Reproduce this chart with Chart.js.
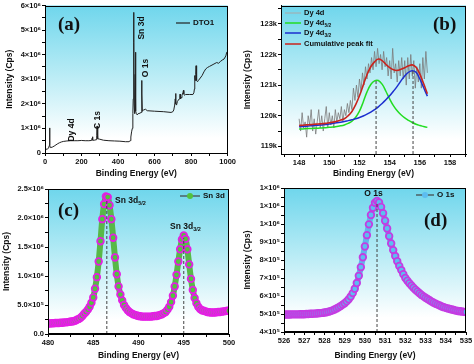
<!DOCTYPE html>
<html>
<head>
<meta charset="utf-8">
<script src="https://cdn.jsdelivr.net/npm/chart.js@4.4.0/dist/chart.umd.min.js"></script>
<style>
  body { margin: 0; background: #fff; }
  #wrap { position: relative; width: 474px; height: 364px; }
  canvas { position: absolute; }
</style>
</head>
<body>
<div id="wrap">
  <canvas id="panelA" width="237" height="182" style="left:0;top:0"></canvas>
  <canvas id="panelB" width="237" height="182" style="left:237px;top:0"></canvas>
  <canvas id="panelC" width="237" height="182" style="left:0;top:182px"></canvas>
  <canvas id="panelD" width="237" height="182" style="left:237px;top:182px"></canvas>
</div>
<script>
// ---------- data ----------
// (a) survey spectrum, counts in 10^6 Cps
const surveyEnergy = [
  0, 5, 10, 15, 20, 23, 25, 27, 30, 40,
  50, 60, 70, 80, 90, 100, 120, 140, 160, 180,
  200, 220, 240, 255, 258, 260, 262, 270, 280, 283,
  285, 287, 290, 300, 320, 350, 380, 410, 440, 460,
  466, 470, 474, 478, 481, 483, 485, 486, 487, 488,
  490, 492, 494, 495, 496, 498, 500, 505, 510, 520,
  526, 529, 530, 531, 533, 540, 550, 560, 600, 650,
  690, 700, 705, 710, 713, 715, 717, 720, 725, 735,
  738, 740, 742, 745, 750, 755, 758, 760, 763, 770,
  790, 810, 815, 818, 820, 822, 825, 827, 829, 831,
  835, 840, 850, 860, 870, 880, 890, 900, 920, 940,
  950, 960, 970, 980, 990, 995, 1000
];
const surveyCounts = [
  0.12, 0.15, 0.16, 0.17, 0.20, 0.30, 1.02, 0.30, 0.22, 0.24,
  0.28, 0.33, 0.38, 0.42, 0.45, 0.47, 0.49, 0.50, 0.50, 0.50,
  0.51, 0.50, 0.50, 0.51, 0.60, 0.66, 0.52, 0.52, 0.54, 0.70,
  1.10, 0.70, 0.58, 0.56, 0.52, 0.50, 0.49, 0.48, 0.46, 0.46,
  0.50, 0.65, 0.86, 1.00, 1.60, 2.20, 4.00, 5.72, 4.50, 2.00,
  1.60, 2.20, 3.20, 4.10, 3.00, 1.70, 1.60, 1.55, 1.60, 1.62,
  1.65, 2.20, 2.95, 2.40, 1.70, 1.75, 1.78, 1.72, 1.70, 1.68,
  1.65, 1.68, 1.75, 1.95, 2.20, 2.42, 2.00, 1.95, 2.10, 2.20,
  2.35, 2.40, 2.20, 2.25, 2.35, 2.45, 2.55, 2.40, 2.35, 2.38,
  2.38, 2.38, 2.45, 2.60, 3.15, 2.95, 3.20, 3.55, 3.10, 2.95,
  2.90, 2.95, 3.05, 3.15, 3.30, 3.42, 3.48, 3.52, 3.60, 3.68,
  3.65, 3.72, 3.78, 3.82, 3.95, 4.10, 4.12
];

// (b) Dy 4d region, counts in k Cps
const dyEnergy = [
  148.0, 148.1, 148.2, 148.3, 148.4, 148.5, 148.6, 148.7, 148.8, 148.9,
  149.0, 149.1, 149.2, 149.3, 149.4, 149.5, 149.6, 149.7, 149.8, 149.9,
  150.0, 150.1, 150.2, 150.3, 150.4, 150.5, 150.6, 150.7, 150.8, 150.9,
  151.0, 151.1, 151.2, 151.3, 151.4, 151.5, 151.6, 151.7, 151.8, 151.9,
  152.0, 152.1, 152.2, 152.3, 152.4, 152.5, 152.6, 152.7, 152.8, 152.9,
  153.0, 153.1, 153.2, 153.3, 153.4, 153.5, 153.6, 153.7, 153.8, 153.9,
  154.0, 154.1, 154.2, 154.3, 154.4, 154.5, 154.6, 154.7, 154.8, 154.9,
  155.0, 155.1, 155.2, 155.3, 155.4, 155.5, 155.6, 155.7, 155.8, 155.9,
  156.0, 156.1, 156.2, 156.3, 156.4, 156.5
];
const dyRaw = [
  119.9, 119.5, 120.1, 119.6, 119.8, 119.3, 120.0, 119.7, 120.2, 119.5,
  119.9, 119.4, 119.8, 120.2, 119.6, 120.0, 119.5, 119.9, 120.3, 119.6,
  120.1, 119.7, 120.0, 119.6, 120.2, 119.8, 120.1, 119.9, 120.3, 119.8,
  120.2, 120.0, 120.4, 120.1, 120.5, 120.2, 120.9, 120.5, 121.0, 120.6,
  121.2, 120.8, 121.4, 121.0, 121.6, 121.2, 121.7, 121.4, 121.9, 121.5,
  122.1, 121.6, 122.2, 121.7, 122.0, 121.5, 122.1, 121.6, 121.9, 121.3,
  121.8, 121.2, 122.2, 121.4, 121.7, 121.1, 121.8, 121.3, 121.9, 121.2,
  121.8, 121.0, 121.9, 121.2, 122.0, 121.3, 121.8, 120.9, 121.6, 121.1,
  121.7, 120.9, 121.9, 121.2, 122.1, 121.4
];
const fitEnergy = [
  148.0, 148.25, 148.5, 148.75, 149.0, 149.25, 149.5, 149.75, 150.0, 150.25,
  150.5, 150.75, 151.0, 151.25, 151.5, 151.75, 152.0, 152.25, 152.5, 152.75,
  153.0, 153.25, 153.5, 153.75, 154.0, 154.25, 154.5, 154.75, 155.0, 155.25,
  155.5, 155.75, 156.0, 156.25, 156.5
];
const fit52 = [
  119.57, 119.57, 119.58, 119.58, 119.59, 119.59, 119.60, 119.61, 119.62, 119.63,
  119.65, 119.67, 119.70, 119.75, 119.82, 119.95, 120.15, 120.45, 120.78, 121.02,
  121.14, 121.15, 121.03, 120.80, 120.55, 120.33, 120.16, 120.03, 119.93, 119.85,
  119.78, 119.72, 119.68, 119.65, 119.62
];
const fit32 = [
  119.64, 119.65, 119.66, 119.67, 119.68, 119.69, 119.70, 119.71, 119.73, 119.75,
  119.77, 119.79, 119.81, 119.84, 119.87, 119.90, 119.94, 119.99, 120.05, 120.12,
  120.20, 120.29, 120.40, 120.52, 120.65, 120.80, 120.96, 121.14, 121.30, 121.42,
  121.47, 121.42, 121.20, 120.92, 120.64
];
const fitSum = [
  119.68, 119.69, 119.70, 119.71, 119.72, 119.73, 119.74, 119.75, 119.77, 119.79,
  119.82, 119.86, 119.90, 120.00, 120.14, 120.36, 120.65, 121.00, 121.34, 121.60,
  121.76, 121.85, 121.80, 121.68, 121.57, 121.50, 121.48, 121.52, 121.57, 121.63,
  121.66, 121.58, 121.36, 121.05, 120.72
];
const dyPeaks = [153.1, 155.55];
const dyPeakTops = [121.15, 121.47];

// (c) Sn 3d, counts in 10^6 Cps
const snEnergy = [
  480.0, 480.2, 480.4, 480.6, 480.8, 481.0, 481.2, 481.4, 481.6, 481.8,
  482.0, 482.2, 482.4, 482.6, 482.8, 483.0, 483.2, 483.4, 483.6, 483.8,
  484.0, 484.2, 484.4, 484.6, 484.8, 485.0, 485.2, 485.4, 485.6, 485.8,
  486.0, 486.2, 486.4, 486.6, 486.8, 487.0, 487.2, 487.4, 487.6, 487.8,
  488.0, 488.2, 488.4, 488.6, 488.8, 489.0, 489.2, 489.4, 489.6, 489.8,
  490.0, 490.2, 490.4, 490.6, 490.8, 491.0, 491.2, 491.4, 491.6, 491.8,
  492.0, 492.2, 492.4, 492.6, 492.8, 493.0, 493.2, 493.4, 493.6, 493.8,
  494.0, 494.2, 494.4, 494.6, 494.8, 495.0, 495.2, 495.4, 495.6, 495.8,
  496.0, 496.2, 496.4, 496.6, 496.8, 497.0, 497.2, 497.4, 497.6, 497.8,
  498.0, 498.2, 498.4, 498.6, 498.8, 499.0, 499.2, 499.4, 499.6, 499.8,
  500.0
];
const snCounts = [
  0.18, 0.18, 0.185, 0.185, 0.19, 0.19, 0.19, 0.195, 0.195, 0.20,
  0.20, 0.205, 0.21, 0.215, 0.22, 0.23, 0.245, 0.26, 0.28, 0.31,
  0.35, 0.38, 0.42, 0.47, 0.54, 0.63, 0.78, 0.98, 1.25, 1.60,
  1.98, 2.24, 2.37, 2.36, 2.22, 1.98, 1.66, 1.32, 1.03, 0.82,
  0.68, 0.58, 0.50, 0.45, 0.41, 0.38, 0.36, 0.34, 0.33, 0.32,
  0.31, 0.305, 0.30, 0.30, 0.30, 0.30, 0.30, 0.30, 0.305, 0.31,
  0.31, 0.32, 0.33, 0.34, 0.36, 0.38, 0.42, 0.47, 0.55, 0.66,
  0.82, 1.02, 1.25, 1.46, 1.63, 1.70, 1.64, 1.46, 1.20, 0.95,
  0.76, 0.62, 0.53, 0.47, 0.43, 0.41, 0.40, 0.39, 0.38, 0.375,
  0.37, 0.37, 0.37, 0.375, 0.38, 0.38, 0.385, 0.39, 0.395, 0.40,
  0.40
];
const snPeaks = [486.5, 495.0];
const snPeakTops = [2.3, 1.65];

// (d) O 1s, counts in 10^5 Cps
const oEnergy = [
  526.0, 526.1, 526.2, 526.3, 526.4, 526.5, 526.6, 526.7, 526.8, 526.9,
  527.0, 527.1, 527.2, 527.3, 527.4, 527.5, 527.6, 527.7, 527.8, 527.9,
  528.0, 528.1, 528.2, 528.3, 528.4, 528.5, 528.6, 528.7, 528.8, 528.9,
  529.0, 529.1, 529.2, 529.3, 529.4, 529.5, 529.6, 529.7, 529.8, 529.9,
  530.0, 530.1, 530.2, 530.3, 530.4, 530.5, 530.6, 530.7, 530.8, 530.9,
  531.0, 531.1, 531.2, 531.3, 531.4, 531.5, 531.6, 531.7, 531.8, 531.9,
  532.0, 532.1, 532.2, 532.3, 532.4, 532.5, 532.6, 532.7, 532.8, 532.9,
  533.0, 533.1, 533.2, 533.3, 533.4, 533.5, 533.6, 533.7, 533.8, 533.9,
  534.0, 534.1, 534.2, 534.3, 534.4, 534.5, 534.6, 534.7, 534.8, 534.9,
  535.0
];
const oCounts = [
  4.97, 4.97, 4.97, 4.97, 4.98, 4.98, 4.98, 4.98, 4.99, 4.99,
  4.99, 5.00, 5.00, 5.01, 5.01, 5.02, 5.03, 5.04, 5.05, 5.06,
  5.08, 5.10, 5.13, 5.16, 5.20, 5.25, 5.31, 5.37, 5.44, 5.52,
  5.60, 5.70, 5.82, 5.97, 6.16, 6.40, 6.72, 7.12, 7.60, 8.15,
  8.75, 9.38, 9.98, 10.50, 10.90, 11.18, 11.28, 11.20, 10.95, 10.60,
  10.18, 9.75, 9.32, 8.92, 8.55, 8.22, 7.93, 7.67, 7.44, 7.21,
  7.00, 6.85, 6.71, 6.58, 6.46, 6.35, 6.25, 6.15, 6.06, 5.98,
  5.90, 5.83, 5.76, 5.69, 5.63, 5.57, 5.52, 5.47, 5.42, 5.38,
  5.34, 5.31, 5.28, 5.25, 5.22, 5.19, 5.17, 5.15, 5.14, 5.12,
  5.11
];
const oPeaks = [530.6];
const oPeakTops = [11.2];

// tick labels
const yTicksA = ['0', '1×10⁶', '2×10⁶', '3×10⁶', '4×10⁶', '5×10⁶', '6×10⁶'];
const yTicksB = ['119k', '120k', '121k', '122k', '123k'];
const yTicksC = ['0.0', '5.0×10⁵', '1.0×10⁶', '1.5×10⁶', '2.0×10⁶', '2.5×10⁶'];
const yTicksD = ['4×10⁵', '5×10⁵', '6×10⁵', '7×10⁵', '8×10⁵', '9×10⁵', '1×10⁶', '1×10⁶', '1×10⁶'];

// ---------- helpers ----------
const SANS = '"Liberation Sans", Arial, sans-serif';
const SERIF = '"Liberation Serif", "Times New Roman", serif';

function pts(xs, ys) {
  return xs.map((x, i) => ({ x: x, y: ys[i] }));
}

function dashLines(xs, tops, bottom) {
  return xs.map((x, i) => ({
    data: [{ x: x, y: bottom }, { x: x, y: tops[i] }],
    borderColor: '#444', borderWidth: 1, borderDash: [3, 2], pointRadius: 0
  }));
}

// text with optional subscript part
function richText(ctx, x, y, parts, size, align) {
  let w = 0;
  parts.forEach(p => {
    ctx.font = 'bold ' + (p.sub ? size * 0.65 : size) + 'px ' + SANS;
    w += ctx.measureText(p.t).width;
  });
  let cx = align === 'center' ? x - w / 2 : x;
  ctx.textAlign = 'left';
  ctx.textBaseline = 'middle';
  parts.forEach(p => {
    ctx.font = 'bold ' + (p.sub ? size * 0.65 : size) + 'px ' + SANS;
    ctx.fillText(p.t, cx, p.sub ? y + size * 0.3 : y);
    cx += ctx.measureText(p.t).width;
  });
}

const deco = {
  id: 'deco',
  beforeDraw(chart) {
    const { ctx, chartArea: a } = chart;
    const g = ctx.createLinearGradient(0, a.top, 0, a.bottom);
    g.addColorStop(0, '#6fd6ec');
    g.addColorStop(0.45, '#b6ebf5');
    g.addColorStop(0.9, '#ffffff');
    ctx.save();
    ctx.fillStyle = g;
    ctx.fillRect(a.left, a.top, a.right - a.left, a.bottom - a.top);
    ctx.restore();
  },
  afterDraw(chart, args, o) {
    const { ctx, chartArea: a } = chart;
    ctx.save();
    ctx.strokeStyle = '#000';
    ctx.lineWidth = 1;
    ctx.strokeRect(Math.round(a.left) + 0.5, Math.round(a.top) + 0.5,
      Math.round(a.right - a.left) - 1, Math.round(a.bottom - a.top) - 1);

    ctx.fillStyle = '#111';
    ctx.font = 'bold 19px ' + SERIF;
    ctx.textBaseline = 'middle';
    ctx.textAlign = 'left';
    ctx.fillText(o.letter[0], o.letter[1], o.letter[2]);

    (o.legend || []).forEach(it => {
      ctx.strokeStyle = it.color;
      ctx.lineWidth = it.width || 1.5;
      ctx.beginPath();
      ctx.moveTo(it.x, it.y);
      ctx.lineTo(it.x + it.len, it.y);
      ctx.stroke();
      if (it.marker) {
        ctx.beginPath();
        ctx.arc(it.x + it.len / 2, it.y, 3, 0, Math.PI * 2);
        ctx.fillStyle = it.marker;
        ctx.fill();
      }
      ctx.fillStyle = '#111';
      richText(ctx, it.x + it.len + 3, it.y, it.parts, it.size || 8, 'left');
    });

    (o.notes || []).forEach(n => {
      ctx.save();
      ctx.translate(n.x, n.y);
      if (n.rot) ctx.rotate(-Math.PI / 2);
      ctx.fillStyle = '#111';
      richText(ctx, 0, 0, n.parts, n.size || 8.5, n.align || 'left');
      ctx.restore();
    });
    ctx.restore();
  }
};
Chart.register(deco);

function axis(min, max, step, cb, title, titlePad, width, isX) {
  return {
    type: 'linear', min: min, max: max,
    grid: { display: true, drawOnChartArea: false, drawTicks: true, tickLength: 3, color: '#000' },
    border: { display: true, color: '#000', width: 1 },
    ticks: {
      stepSize: step, autoSkip: false, maxRotation: 0, includeBounds: false,
      padding: 1, color: '#111',
      font: { size: 7.5, weight: 'bold', family: SANS },
      callback: cb
    },
    title: {
      display: true, text: title, color: '#111',
      font: { size: 8.5, weight: 'bold', family: SANS },
      padding: isX ? { top: 0, bottom: titlePad } : { top: titlePad, bottom: 0 }
    },
    afterFit(scale) {
      if (isX) scale.height = width; else scale.width = width;
    }
  };
}

function isInt(v) { return Math.abs(v - Math.round(v)) < 1e-6; }

function baseOptions(pad, xAx, yAx, deco) {
  return {
    responsive: false,
    animation: false,
    events: [],
    layout: { padding: pad },
    scales: { x: xAx, y: yAx },
    plugins: { legend: { display: false }, tooltip: { enabled: false }, deco: deco }
  };
}

// ---------- (a) ----------
new Chart(document.getElementById('panelA'), {
  type: 'line',
  data: {
    datasets: [{
      data: pts(surveyEnergy, surveyCounts),
      borderColor: '#222', borderWidth: 1, pointRadius: 0, tension: 0
    }]
  },
  options: baseOptions({ left: 0, top: 4, right: 8, bottom: 0 },
    axis(0, 1000, 100, v => (v % 200 === 0 ? String(v) : ''), 'Binding Energy (eV)', 3, 29, true),
    axis(0, 6, 0.5, v => (isInt(v) ? yTicksA[Math.round(v)] : ''), 'Intensity (Cps)', 5, 45, false),
    {
      letter: ['(a)', 58, 25],
      legend: [{ x: 176, y: 23, len: 14, color: '#222', width: 1.2, parts: [{ t: 'DTO1' }] }],
      notes: [
        { x: 141.7, y: 28, rot: true, align: 'center', parts: [{ t: 'Sn 3d' }] },
        { x: 146, y: 68, rot: true, align: 'center', parts: [{ t: 'O 1s' }] },
        { x: 98, y: 120, rot: true, align: 'center', parts: [{ t: 'C 1s' }] },
        { x: 72, y: 130, rot: true, align: 'center', parts: [{ t: 'Dy 4d' }] }
      ]
    })
});

// ---------- (b) ----------
const yMinB = 118.75;
new Chart(document.getElementById('panelB'), {
  type: 'line',
  data: {
    datasets: dashLines(dyPeaks, dyPeakTops, yMinB).concat([
      { data: pts(fitEnergy, fitSum), borderColor: '#c8241e', borderWidth: 1.6, pointRadius: 0, tension: 0.4 },
      { data: pts(fitEnergy, fit32), borderColor: '#1c2fcf', borderWidth: 1.5, pointRadius: 0, tension: 0.4 },
      { data: pts(fitEnergy, fit52), borderColor: '#22dd22', borderWidth: 1.5, pointRadius: 0, tension: 0.4 },
      { data: pts(dyEnergy, dyRaw), borderColor: '#7a7a7a', borderWidth: 0.8, pointRadius: 0, tension: 0 }
    ])
  },
  options: baseOptions({ left: 0, top: 3, right: 8, bottom: 0 },
    axis(146.8, 159.06, 1, v => (Math.round(v) % 2 === 0 ? String(Math.round(v)) : ''), 'Binding Energy (eV)', 3, 28, true),
    axis(yMinB, 123.6, 0.5, v => (isInt(v) ? yTicksB[Math.round(v) - 119] : ''), 'Intensity (Cps)', 6, 44, false),
    {
      letter: ['(b)', 196, 25],
      legend: [
        { x: 48, y: 13, len: 16, color: '#a8a8a8', width: 1, size: 7.5, parts: [{ t: 'Dy 4d' }] },
        { x: 48, y: 23, len: 16, color: '#22dd22', size: 7.5, parts: [{ t: 'Dy 4d' }, { t: '5/2', sub: true }] },
        { x: 48, y: 33, len: 16, color: '#1c2fcf', size: 7.5, parts: [{ t: 'Dy 4d' }, { t: '3/2', sub: true }] },
        { x: 48, y: 44, len: 16, color: '#c8241e', size: 7.5, parts: [{ t: 'Cumulative peak fit' }] }
      ]
    })
});

// ---------- (c) ----------
new Chart(document.getElementById('panelC'), {
  type: 'line',
  data: {
    datasets: dashLines(snPeaks, snPeakTops, 0).concat([{
      data: pts(snEnergy, snCounts),
      borderColor: '#58b848', borderWidth: 6, tension: 0.3,
      pointRadius: 3.3, pointBorderWidth: 1.8,
      pointBackgroundColor: '#52c23e', pointBorderColor: '#e41fe4'
    }])
  },
  options: baseOptions({ left: 0, top: 7, right: 8, bottom: 0 },
    axis(480, 500, 2.5, v => (v % 5 === 0 ? String(v) : ''), 'Binding Energy (eV)', 3, 30, true),
    axis(0, 2.5, 0.25, v => (isInt(v * 2) ? yTicksC[Math.round(v * 2)] : ''), 'Intensity (Cps)', 2, 48, false),
    {
      letter: ['(c)', 58, 29],
      legend: [{ x: 180, y: 14, len: 20, color: '#444', width: 1.2, marker: '#52c23e', parts: [{ t: 'Sn 3d' }] }],
      notes: [
        { x: 115, y: 19, parts: [{ t: 'Sn 3d' }, { t: '5/2', sub: true }] },
        { x: 170, y: 45, parts: [{ t: 'Sn 3d' }, { t: '3/2', sub: true }] }
      ]
    })
});

// ---------- (d) ----------
new Chart(document.getElementById('panelD'), {
  type: 'line',
  data: {
    datasets: dashLines(oPeaks, oPeakTops, 4).concat([{
      data: pts(oEnergy, oCounts),
      borderColor: '#62b4ec', borderWidth: 6, tension: 0.3,
      pointRadius: 3.3, pointBorderWidth: 1.8,
      pointBackgroundColor: '#5cbdf0', pointBorderColor: '#c43ce2'
    }])
  },
  options: baseOptions({ left: 0, top: 6, right: 8, bottom: 0 },
    axis(526, 535, 0.5, v => (isInt(v) ? String(Math.round(v)) : ''), 'Binding Energy (eV)', 3, 32, true),
    axis(4, 12, 0.5, v => (isInt(v) ? yTicksD[Math.round(v) - 4] : ''), 'Intensity (Cps)', 6, 47, false),
    {
      letter: ['(d)', 187, 39],
      legend: [{ x: 179, y: 13, len: 18, color: '#444', width: 1.2, marker: '#5cbdf0', parts: [{ t: 'O 1s' }] }],
      notes: [{ x: 136.5, y: 12, align: 'center', parts: [{ t: 'O 1s' }] }]
    })
});
</script>
</body>
</html>
